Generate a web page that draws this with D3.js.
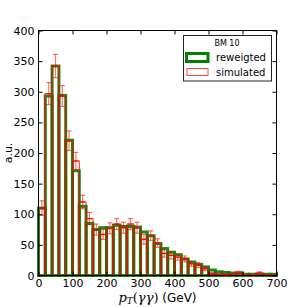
<!DOCTYPE html>
<html>
<head>
<meta charset="utf-8">
<script src="https://cdn.jsdelivr.net/npm/d3@7"></script>
<style>
  html, body { margin: 0; padding: 0; background: #fff; }
  svg { display: block; font-family: "DejaVu Sans", sans-serif; }
</style>
</head>
<body>
<div id="chart"></div>
<script>
// ── Data ────────────────────────────────────────────────────────────────────
const BIN_EDGES = d3.range(0, 720, 20);           // 0..700, 20 GeV bins
const REWEIGHTED = [110, 293, 342, 294, 221, 171, 113, 85, 75, 78,
                    78, 82, 80, 80, 79, 71, 65, 52, 44, 38,
                    34, 27, 22, 18, 14, 9, 6, 5, 4, 4,
                    2, 2, 2, 2, 2];
const SIMULATED  = [110, 297, 342, 293, 220, 187, 120, 93, 75, 67,
                    77, 84, 78, 84, 78, 59, 65, 53, 36, 33,
                    30, 27, 19, 17, 11, 3, 2, 2, 2, 5,
                    1, 1, 4, 1, 1];
const SIM_ERR    = [12, 18, 19, 17, 16, 14, 11, 10, 9, 8,
                    9, 9, 9, 9, 9, 8, 8, 7, 6, 6,
                    5, 5, 4, 4, 3, 2, 1, 1, 1, 2,
                    1, 1, 2, 1, 1];
const X_TICKS = [0, 100, 200, 300, 400, 500, 600, 700];
const Y_TICKS = [0, 50, 100, 150, 200, 250, 300, 350, 400];

(function () {
  'use strict';

  const width = 307, height = 307;
  const left = 38.5, right = 276.5, top = 30.5, bottom = 275.5;

  const svg = d3.select('#chart').append('svg')
    .attr('width', width).attr('height', height);

  const x = d3.scaleLinear().domain([0, 700]).range([left, right]);
  const y = d3.scaleLinear().domain([0, 400]).range([bottom, top]);

  const bins = REWEIGHTED.map((v, i) => ({
    x0: BIN_EDGES[i], x1: BIN_EDGES[i + 1],
    rew: v, sim: SIMULATED[i], err: SIM_ERR[i]
  }));

  const plot = svg.append('g');

  // reweighted: thick green outlined bars
  plot.selectAll('.rew').data(bins).enter().append('rect')
    .attr('x', d => x(d.x0)).attr('width', d => x(d.x1) - x(d.x0))
    .attr('y', d => y(d.rew)).attr('height', d => y(0) - y(d.rew))
    .attr('fill', 'none').attr('stroke', '#008000').attr('stroke-width', 3)
    .attr('stroke-opacity', 0.9);

  // simulated: thin red outlined bars
  plot.selectAll('.sim').data(bins).enter().append('rect')
    .attr('x', d => x(d.x0)).attr('width', d => x(d.x1) - x(d.x0))
    .attr('y', d => y(d.sim)).attr('height', d => y(0) - y(d.sim))
    .attr('fill', 'none').attr('stroke', '#ff0000').attr('stroke-width', 1.2)
    .attr('stroke-opacity', 0.75);

  // error bars
  const eb = plot.selectAll('.eb').data(bins).enter().append('g')
    .attr('stroke', '#ff0000').attr('stroke-opacity', 0.55).attr('stroke-width', 1.2);
  const cx = d => x((d.x0 + d.x1) / 2);
  eb.append('line')
    .attr('x1', cx).attr('x2', cx)
    .attr('y1', d => y(d.sim + d.err)).attr('y2', d => y(Math.max(0, d.sim - d.err)));
  eb.append('line')
    .attr('x1', d => cx(d) - 2.5).attr('x2', d => cx(d) + 2.5)
    .attr('y1', d => y(d.sim + d.err)).attr('y2', d => y(d.sim + d.err));
  eb.append('line')
    .attr('x1', d => cx(d) - 2.5).attr('x2', d => cx(d) + 2.5)
    .attr('y1', d => y(Math.max(0, d.sim - d.err))).attr('y2', d => y(Math.max(0, d.sim - d.err)));
  eb.append('line')
    .attr('x1', d => x(d.x0) + 1).attr('x2', d => x(d.x1) - 1)
    .attr('y1', d => y(d.sim)).attr('y2', d => y(d.sim))
    .attr('stroke-opacity', 0.9);

  // ── Axes (inward ticks on all sides) ────────────────────────────────────
  const styleAxis = ax => {
    ax.select('.domain').remove();
    ax.selectAll('.tick line').attr('stroke', '#000');
    ax.selectAll('.tick text').attr('fill', '#000')
      .attr('font-family', '"DejaVu Sans", sans-serif').attr('font-size', 11);
  };

  svg.append('g').attr('transform', `translate(0,${bottom})`)
    .call(d3.axisBottom(x).tickValues(X_TICKS).tickSizeInner(-4).tickSizeOuter(0).tickPadding(4))
    .call(styleAxis);
  svg.append('g').attr('transform', `translate(0,${top})`)
    .call(d3.axisTop(x).tickValues(X_TICKS).tickSizeInner(-4).tickSizeOuter(0).tickFormat(''))
    .call(styleAxis);
  svg.append('g').attr('transform', `translate(${left},0)`)
    .call(d3.axisLeft(y).tickValues(Y_TICKS).tickSizeInner(-4).tickSizeOuter(0).tickPadding(4))
    .call(styleAxis);
  svg.append('g').attr('transform', `translate(${right},0)`)
    .call(d3.axisRight(y).tickValues(Y_TICKS).tickSizeInner(-4).tickSizeOuter(0).tickFormat(''))
    .call(styleAxis);

  svg.append('rect')
    .attr('x', left).attr('y', top).attr('width', right - left).attr('height', bottom - top)
    .attr('fill', 'none').attr('stroke', '#000').attr('stroke-width', 1);

  // axis labels
  svg.append('text')
    .attr('transform', `translate(8,${(top + bottom) / 2}) rotate(-90)`)
    .attr('text-anchor', 'middle').attr('dy', '0.35em')
    .attr('font-size', 11).text('a.u.');

  const xl = svg.append('text')
    .attr('x', (left + right) / 2).attr('y', 302)
    .attr('text-anchor', 'middle').attr('font-size', 12);
  const serif = '"DejaVu Serif", serif';
  xl.append('tspan').attr('font-family', serif).attr('font-style', 'italic').attr('font-size', 13).text('p');
  xl.append('tspan').attr('font-family', serif).attr('font-style', 'italic')
    .attr('font-size', 9).attr('dy', 2).text('T');
  xl.append('tspan').attr('font-family', serif).attr('font-size', 13).attr('dy', -2).text('(');
  xl.append('tspan').attr('font-family', serif).attr('font-style', 'italic').attr('font-size', 13).text('γγ');
  xl.append('tspan').attr('font-family', serif).attr('font-size', 13).text(')');
  xl.append('tspan').text(' (GeV)');

  // ── Legend ──────────────────────────────────────────────────────────────
  const lg = svg.append('g');
  lg.append('rect').attr('x', 183.5).attr('y', 35.5).attr('width', 88).attr('height', 45.5)
    .attr('fill', '#fff').attr('stroke', '#222').attr('stroke-width', 1);
  lg.append('text').attr('x', 227).attr('y', 46).attr('text-anchor', 'middle')
    .attr('font-size', 8).text('BM 10');
  lg.append('rect').attr('x', 186.5).attr('y', 53.5).attr('width', 21.5).attr('height', 8)
    .attr('fill', '#fff').attr('stroke', '#008000').attr('stroke-width', 3);
  lg.append('text').attr('x', 216).attr('y', 61).attr('font-size', 10).text('reweigted');
  lg.append('rect').attr('x', 187).attr('y', 68.5).attr('width', 21).attr('height', 7)
    .attr('fill', '#fff').attr('stroke', '#ff0000').attr('stroke-opacity', 0.75).attr('stroke-width', 1);
  lg.append('text').attr('x', 216).attr('y', 76).attr('font-size', 10).text('simulated');
})();
</script>
</body>
</html>
